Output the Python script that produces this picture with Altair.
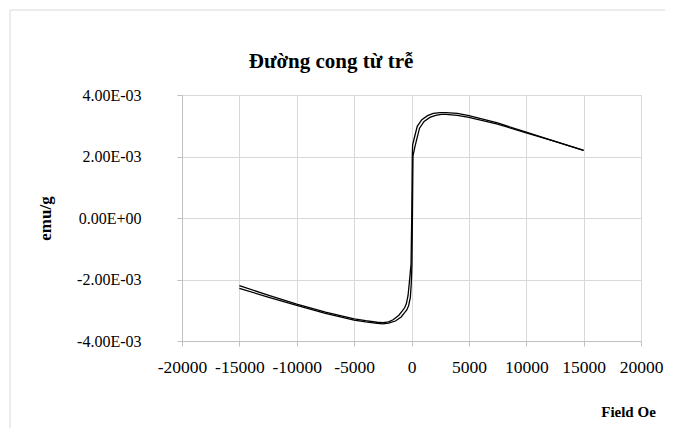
import altair as alt
import pandas as pd

# Field (Oe) and magnetisation (x1e-3 emu/g) for the two branches of the loop
h_upper = [-15000, -12500, -10000, -7500, -5000, -4000, -3000, -2500, -2000, -1600, -1100, -800, -600, -450, -300, -180, -40, 20, 70, 100, 250, 500, 900, 1400, 1900, 2500, 3000, 4000, 5000, 7500, 10000, 12500, 15000]
m_upper = [-2.20, -2.51, -2.80, -3.06, -3.28, -3.34, -3.39, -3.40, -3.38, -3.31, -3.16, -3.02, -2.92, -2.79, -2.52, -2.07, -1.50, 0.00, 2.05, 2.38, 2.61, 2.98, 3.20, 3.33, 3.40, 3.43, 3.43, 3.40, 3.33, 3.09, 2.79, 2.49, 2.20]
h_lower = [-15000, -12500, -10000, -7500, -5000, -4000, -3000, -2500, -2000, -1400, -900, -600, -400, -250, -100, -20, 40, 80, 130, 300, 450, 700, 1100, 1600, 2100, 2600, 3000, 4000, 5000, 7500, 10000, 12500, 15000]
m_lower = [-2.29, -2.57, -2.84, -3.10, -3.32, -3.38, -3.43, -3.44, -3.42, -3.35, -3.22, -3.08, -2.98, -2.85, -2.58, -2.13, -1.50, 0.00, 2.02, 2.32, 2.55, 2.92, 3.14, 3.27, 3.34, 3.37, 3.37, 3.34, 3.27, 3.05, 2.77, 2.49, 2.20]

x_ticks = [-20000, -15000, -10000, -5000, 0, 5000, 10000, 15000, 20000]
y_ticks = [-0.004, -0.002, 0.0, 0.002, 0.004]
y_tick_labels = ["-4.00E-03", "-2.00E-03", "0.00E+00", "2.00E-03", "4.00E-03"]
chart_title = "Đường cong từ trễ"

rows = []
for i, (h, m) in enumerate(zip(h_upper, m_upper)):
    rows.append({"branch": "upper", "i": i, "field": h, "emu": m * 1e-3})
for i, (h, m) in enumerate(zip(h_lower, m_lower)):
    rows.append({"branch": "lower", "i": i, "field": h, "emu": m * 1e-3})
df = pd.DataFrame(rows)

label_map = ", ".join(f"'{round(v * 1000)}': '{l}'" for v, l in zip(y_ticks, y_tick_labels))
y_label_expr = "{" + label_map + "}[''+round(datum.value*1000)]"

FONT = "Liberation Serif"
W, H = 459, 246
LEFT, TOP = 174, 87

lines = alt.Chart(df).mark_line(strokeWidth=1.3, color="black", clip=True).encode(
    x=alt.X("field:Q",
            scale=alt.Scale(domain=[-20000, 20000], nice=False),
            axis=alt.Axis(values=x_ticks, labelExpr="''+datum.value", title="Field Oe",
                          titleX=446, titleY=75, titleAlign="center", titleBaseline="alphabetic",
                          titleFontSize=15, labelPadding=12, labelOverlap=False,
                          labelFlush=False, labelFontSize=17.5)),
    y=alt.Y("emu:Q",
            scale=alt.Scale(domain=[-0.004, 0.004], nice=False),
            axis=alt.Axis(values=y_ticks, labelExpr=y_label_expr, title="emu/g",
                          titleX=-137, titleY=123, titleAngle=-90, titleAlign="center",
                          titleBaseline="middle", titleFontSize=17, labelPadding=36,
                          labelFontSize=16)),
    detail="branch:N",
    order="i:Q",
)

frame = alt.Chart(pd.DataFrame({"a": [0]})).mark_rect(
    fill=None, stroke="#d9d9d9", strokeWidth=1, clip=False
).encode(
    x=alt.value(-172), x2=alt.value(W + 60),
    y=alt.value(-85), y2=alt.value(H + 120),
)

title = alt.Chart(pd.DataFrame({"t": [chart_title]})).mark_text(
    font=FONT, fontSize=21, fontWeight="bold", color="black",
    align="center", baseline="alphabetic",
).encode(text="t:N", x=alt.value(149), y=alt.value(-27))

chart = alt.layer(frame, lines, title).properties(
    width=W, height=H,
    autosize=alt.AutoSizeParams(type="none"),
    padding={"left": LEFT, "top": TOP, "right": 24, "bottom": 87},
).configure_view(stroke=None).configure_axis(
    labelFont=FONT, labelColor="black",
    titleFont=FONT, titleFontWeight="bold", titleColor="black",
    gridColor="#d9d9d9", gridWidth=1, domainColor="#bfbfbf", tickColor="#bfbfbf",
    tickSize=5, domainWidth=1,
)

chart.save("out.html", embed_options={"renderer": "svg", "actions": False})
